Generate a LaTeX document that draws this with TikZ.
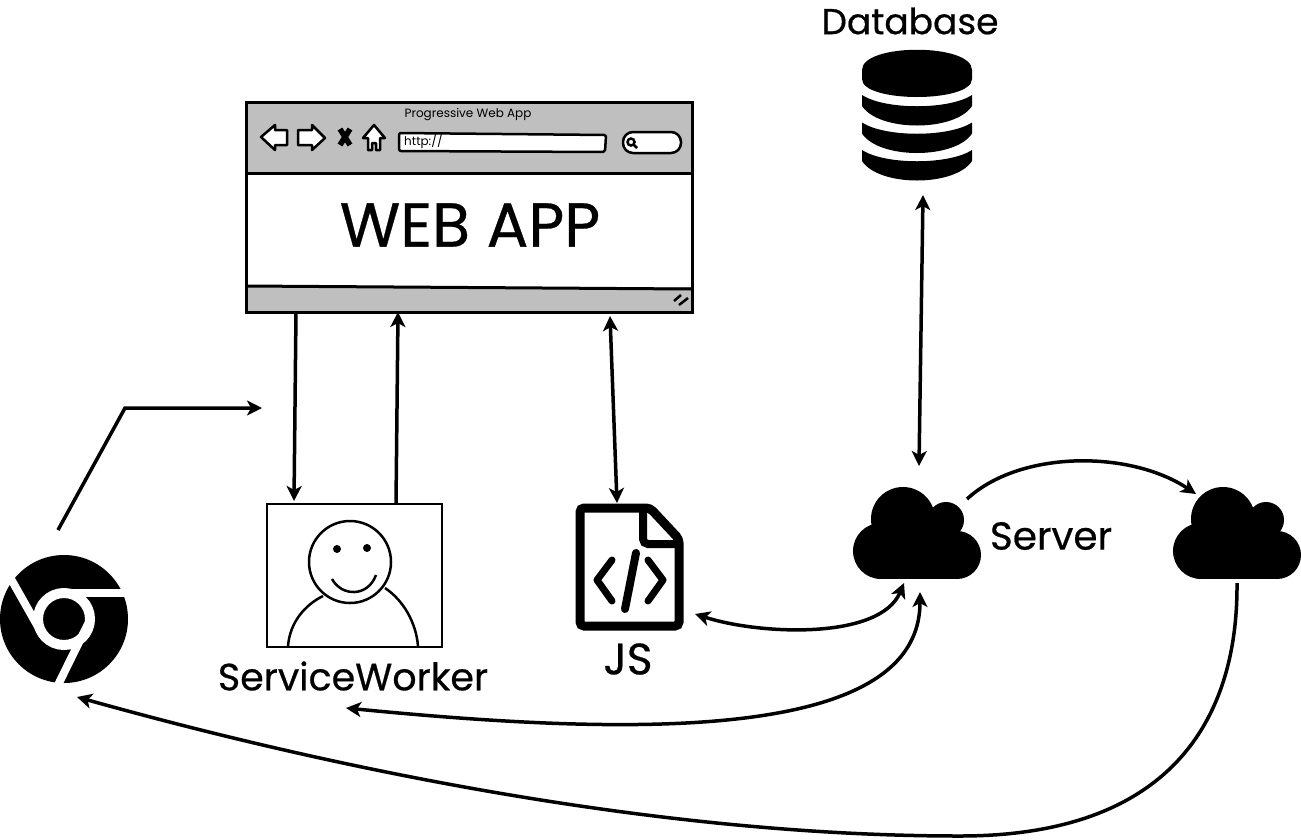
\documentclass[tikz,border=0pt]{standalone}
\usepackage{fontspec}
\setmainfont{Poppins}
\newfontfamily\sketchfont[FakeBold=0.5]{Poppins}
\usetikzlibrary{arrows.meta}

\begin{document}
\begin{tikzpicture}[
  x=1pt, y=-1pt,
  iconbox/.style={inner sep=0pt, outer sep=0pt},
  link/.style={line width=3.5pt, {Stealth[length=15pt,width=15pt,inset=4pt]}-{Stealth[length=15pt,width=15pt,inset=4pt]}},
  linkto/.style={line width=3.5pt, -{Stealth[length=15pt,width=15pt,inset=4pt]}},
  bigname/.style={inner sep=0pt, font=\sketchfont\fontsize{#1}{40}\selectfont},
  smallname/.style={inner sep=0pt, font=\fontsize{12}{14}\selectfont},
  toolicon/.style={draw, fill=white, line width=2.5pt, line join=round},
  face/.style={draw, line width=2.5pt}
]
  \useasboundingbox (0,0) rectangle (1301,839);

  % browser window
  \node[iconbox, minimum width=446pt, minimum height=210pt] (webapp) at (469,207) {};
  \fill[black!25] (246,102) rectangle (692,173);
  \fill[black!25] (246,287) rectangle (692,312);
  \draw[line width=3pt] (246,173) -- (692,173);
  \draw[line width=3pt] (246,286) -- (692,289);
  \draw[line width=3pt] (webapp.south west) rectangle (webapp.north east);
  \node[smallname] (apptitle) at (468,115) {Progressive Web App};
  \node[bigname=62] (appname) at (470,225) {WEB APP};
  \draw[toolicon] (261,137) -- (275,125) -- (275,130) -- (287,130) -- (287,145) -- (275,145) -- (275,150) -- cycle;
  \draw[toolicon] (325,138) -- (312,125) -- (312,130) -- (298,130) -- (298,145) -- (312,145) -- (312,150) -- cycle;
  \draw[line width=5.5pt] (340,129) -- (350,145) (350,129) -- (340,145);
  \draw[toolicon] (374,125) -- (385,138) -- (380,138) -- (380,150) -- (376,150) -- (376,143) -- (372,143) -- (372,150) -- (368,150) -- (368,138) -- (363,138) -- cycle;
  \draw[toolicon, rounded corners=2pt] (399,133) -- (606,135) -- (605,152) -- (399,151) -- cycle;
  \node[smallname, anchor=west] (appurl) at (404,141) {http://};
  \draw[toolicon, rounded corners=10pt] (623,132) rectangle (681,153);
  \draw[line width=2.5pt] (631,142) circle[radius=3.5] (634,145) -- (637,148);
  \draw[line width=2.5pt] (674,301) -- (681,295) (679,305) -- (688,298);

  % service worker
  \node[iconbox, draw, line width=2pt, minimum width=175pt, minimum height=143pt] (worker) at (354.5,575.5) {};
  \draw[face] (350,562) circle[radius=41];
  \fill (337,549) circle[radius=4] (367,548) circle[radius=4];
  \draw[face] (332,579) .. controls (342,597) and (368,597) .. (376,575);
  \draw[face] (288,646) .. controls (290,622) and (305,605) .. (323,596);
  \draw[face] (385,588) .. controls (403,600) and (416,622) .. (418,646);
  \node[bigname=38] (workername) at (353,676) {ServiceWorker};

  % js file
  \node[iconbox, minimum width=109pt, minimum height=128pt] (jsfile) at (629.5,567) {};
  \draw[line width=9pt, rounded corners=4pt] (580,508) -- (650,508) -- (679,539) -- (679,626) -- (580,626) -- cycle;
  \draw[line width=8pt, rounded corners=5pt] (643,508) -- (643,544) -- (679,544);
  \draw[line width=7pt, line cap=round, line join=round] (612,560) -- (597,580) -- (612,601);
  \draw[line width=7pt, line cap=round, line join=round] (648,560) -- (663,580) -- (648,601);
  \draw[line width=8pt, line cap=round] (636,553) -- (625,609);
  \node[bigname=44] (jsname) at (628,659) {JS};

  % database
  \node[iconbox, minimum width=110pt, minimum height=128pt] (dbicon) at (917,116) {};
  \fill (862,70) .. controls (862,43) and (972,43) .. (972,70) -- (972,79) .. controls (972,103) and (862,103) .. (862,79) -- cycle;
  \foreach \dy in {0,27.5,55}{
    \fill[yshift=-\dy pt] (862,95) .. controls (885,110) and (949,110) .. (972,95) -- (972,106) .. controls (955,132) and (879,132) .. (862,106) -- cycle;
  }
  \node[bigname=36] (dbname) at (910,21) {Database};

  % clouds
  \foreach \dx/\cloudname in {0/cloudA,320/cloudB}{
    \begin{scope}[xshift=\dx pt]
      \fill (903,519) circle[radius=32] (946,520) circle[radius=18]
        (881,551) circle[radius=28] (957,555) circle[radius=24];
      \fill (881,525) rectangle (957,579);
      \node[iconbox, minimum width=128pt, minimum height=92pt] (\cloudname) at (917,533) {};
    \end{scope}
  }
  \node[bigname=39] (servername) at (1051,536) {Server};

  % chrome
  \node[iconbox, circle, fill=black, minimum size=128pt] (chrome) at (64,619) {};
  \draw[white, line width=10pt] (64,619) circle[radius=26];
  \draw[white, line width=8pt] (70,593) -- (127,593);
  \draw[white, line width=8pt] (11,579) -- (41,632);
  \draw[white, line width=8pt] (88,624) -- (57.5,686);

  \coordinate (chromeend) at (262,408);

  % connectors
  \draw[linkto] ([xshift=-173pt]webapp.south) -- ([xshift=-60.5pt,yshift=3pt]worker.north);
  \draw[linkto] ([xshift=41.5pt]worker.north) -- ([xshift=-71pt]webapp.south);
  \draw[link] ([xshift=141pt,yshift=-4pt]webapp.south) -- ([xshift=-12.5pt]jsfile.north);
  \draw[link] ([xshift=6pt,yshift=-15pt]dbicon.south) -- ([xshift=2pt,yshift=21pt]cloudA.north);
  \draw[linkto] ([xshift=-14pt,yshift=-12pt]cloudA.north east) .. controls (1020,450) and (1130,450) .. ([xshift=23pt,yshift=-7pt]cloudB.north west);
  \draw[link] ([xshift=11pt,yshift=-47pt]jsfile.east) .. controls (760,635) and (880,640) .. ([xshift=-13pt,yshift=-4pt]cloudA.south);
  \draw[link] ([xshift=-8.5pt,yshift=-61pt]worker.south) .. controls (620,735) and (920,745) .. ([xshift=3pt,yshift=-13pt]cloudA.south);
  \draw[linkto] ([yshift=-4pt]cloudB.south) .. controls (1238,720) and (1170,836) .. (960,836) .. controls (650,836) and (320,765) .. ([xshift=13pt,yshift=-78pt]chrome.center);
  \draw[linkto] ([xshift=-6pt,yshift=25pt]chrome.north) -- (125,408) -- (chromeend);
\end{tikzpicture}
\end{document}
